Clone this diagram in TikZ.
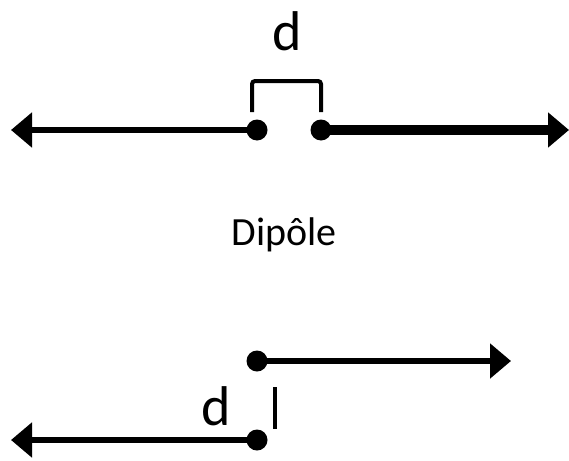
\documentclass[tikz,border=0pt]{standalone}
\usepackage{fontspec}
\setmainfont{Carlito}
\usetikzlibrary{arrows.meta}
\begin{document}
\begin{tikzpicture}[x=1pt,y=-1pt,
  dot/.style={circle,fill=black,draw=none,minimum size=21pt,inner sep=0pt},
  vec/.style={line width=#1,-{Triangle[length=21pt,width=34pt]}},
  lbl/.style={font=\fontsize{56}{60}\selectfont,anchor=base,inner sep=0pt},
  captxt/.style={font=\fontsize{40}{44}\selectfont,anchor=base,inner sep=0pt},
  tick/.style={line width=4pt}
]
\useasboundingbox (0,0) rectangle (569,460);
% top dipole
\node[dot] (p1) at (257,130) {};
\node[dot] (p2) at (321,130) {};
\coordinate (t1) at (11,130);
\coordinate (t2) at (569,130);
\draw[vec=6pt] (p1.center) -- (t1);
\draw[vec=10pt] (p2.center) -- (t2);
\coordinate (b1) at (252,112);
\coordinate (b2) at (321,112);
\draw[tick,rounded corners=3pt] (b1) -- (252,81) -- (321,81) -- (b2);
\node[lbl] (d1) at (287.5,50) {d};
% caption
\node[captxt] (cap) at (284,245) {Dipôle};
% bottom
\node[dot] (q1) at (257,361) {};
\node[dot] (q2) at (257,440) {};
\coordinate (s1) at (511,361);
\coordinate (s2) at (11,440);
\draw[vec=6.5pt] (q1.center) -- (s1);
\draw[vec=6.5pt] (q2.center) -- (s2);
\node[lbl] (d2) at (216,425) {d};
\coordinate (m1) at (275,387);
\coordinate (m2) at (275,429);
\draw[tick] (m1) -- (m2);
\end{tikzpicture}
\end{document}
